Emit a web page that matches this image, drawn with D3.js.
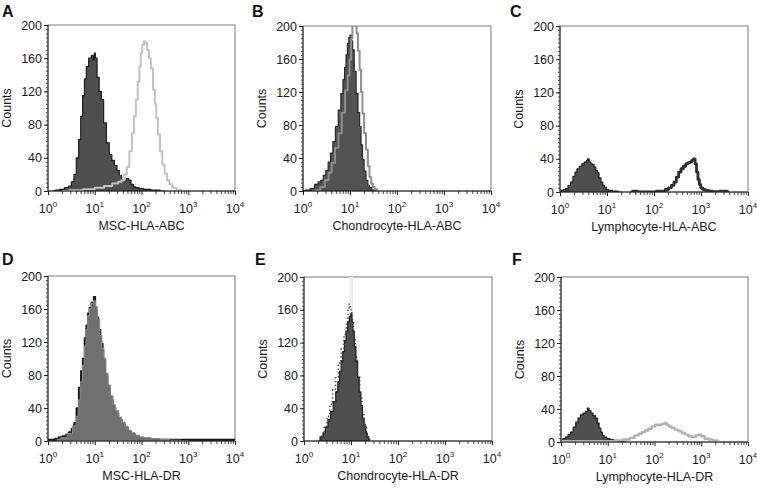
<!DOCTYPE html>
<html><head><meta charset="utf-8">
<script src="https://cdn.jsdelivr.net/npm/d3@7"></script>
<style>
html,body{margin:0;padding:0;background:#fff;}
svg{display:block;font-family:"Liberation Sans",Arial,sans-serif;}
</style></head>
<body>
<svg id="chart" width="757" height="488"></svg>
<script>
// ---------- data (x = log10 fluorescence, y = counts) ----------
const panelLetters = ["A","B","C","D","E","F"];
const xTitles = ["MSC-HLA-ABC","Chondrocyte-HLA-ABC","Lymphocyte-HLA-ABC","MSC-HLA-DR","Chondrocyte-HLA-DR","Lymphocyte-HLA-DR"];
const xTickExponents = [0,1,2,3,4];
const yTickValues = [0,40,80,120,160,200];

const aControl = [[0.1,0],[0.2,1],[0.3,2],[0.4,4],[0.47,6],[0.53,11],[0.58,20],[0.63,40],[0.68,62],[0.72,90],[0.76,115],[0.8,135],[0.84,150],[0.9,160],[0.95,163],[0.98,158],[1.0,166],[1.03,160],[1.07,137],[1.12,120],[1.16,110],[1.22,82],[1.28,58],[1.34,44],[1.39,37],[1.45,31],[1.5,25],[1.55,19],[1.6,13],[1.65,12],[1.7,15],[1.75,13],[1.8,8],[1.85,5],[1.9,4],[2.0,3],[2.1,2],[2.3,1],[2.5,0]];
const aStained = [[0.3,0],[0.6,1],[0.9,2],[1.1,4],[1.3,6],[1.45,9],[1.55,11],[1.6,13],[1.66,20],[1.71,29],[1.77,48],[1.82,70],[1.86,90],[1.9,110],[1.94,132],[1.97,150],[2.0,166],[2.03,176],[2.07,180],[2.1,178],[2.14,170],[2.18,160],[2.22,148],[2.27,122],[2.3,105],[2.33,88],[2.37,68],[2.42,48],[2.47,32],[2.52,21],[2.57,13],[2.62,8],[2.7,4],[2.8,1.5],[2.9,0]];

const bControl = [[0,0.5],[0.1,1],[0.2,3],[0.29,8],[0.35,11],[0.4,13],[0.46,19],[0.51,25],[0.56,35],[0.61,46],[0.66,60],[0.72,78],[0.78,98],[0.83,118],[0.87,135],[0.9,150],[0.93,165],[0.96,179],[0.99,186],[1.01,189],[1.04,182],[1.07,171],[1.11,145],[1.15,118],[1.19,95],[1.22,78],[1.25,56],[1.28,38],[1.32,24],[1.36,13],[1.4,7],[1.43,4],[1.5,1],[1.6,0]];
const bStained = [[0.2,0],[0.32,1],[0.42,5],[0.51,13],[0.58,22],[0.64,34],[0.72,52],[0.79,70],[0.86,95],[0.93,122],[0.97,140],[1.01,159],[1.04,185],[1.06,205],[1.1,210],[1.13,200],[1.15,191],[1.19,170],[1.22,147],[1.25,120],[1.28,94],[1.32,70],[1.36,50],[1.4,30],[1.43,17],[1.47,9],[1.5,5],[1.55,2],[1.6,0]];

const cControl = [[0,1],[0.04,2],[0.1,3],[0.14,4],[0.2,8],[0.25,12],[0.3,19],[0.34,24],[0.38,28],[0.44,31],[0.49,34],[0.54,36],[0.58,38],[0.6,40],[0.64,36],[0.67,34],[0.71,33],[0.74,30],[0.78,26],[0.81,23],[0.85,17],[0.89,12],[0.93,8],[0.96,6],[1.0,3],[1.06,2],[1.17,1],[1.3,0]];
const cStained = [[1.5,0],[1.6,1],[1.7,0],[2.0,0],[2.1,1],[2.2,1],[2.28,3],[2.34,5],[2.4,8],[2.45,12],[2.5,18],[2.55,24],[2.6,28],[2.65,31],[2.7,34],[2.74,35],[2.78,36],[2.82,38],[2.86,40],[2.89,34],[2.92,24],[2.95,15],[2.98,9],[3.01,5],[3.06,3],[3.12,2],[3.2,1],[3.3,0.5],[3.5,1],[3.6,0]];

const dControl = [[0,2],[0.1,2],[0.2,3],[0.26,5],[0.35,6],[0.42,8],[0.47,11],[0.53,15],[0.58,22],[0.63,40],[0.68,65],[0.72,85],[0.76,100],[0.8,125],[0.83,140],[0.87,155],[0.9,162],[0.95,168],[1.0,175],[1.03,160],[1.06,150],[1.1,135],[1.15,118],[1.2,100],[1.25,78],[1.3,64],[1.36,50],[1.42,40],[1.47,34],[1.55,26],[1.61,21],[1.68,16],[1.75,12],[1.82,9],[1.9,6],[2.0,4],[2.11,3],[2.3,2],[2.6,2],[3,2],[3.5,2],[4,2]];
const dStained = [[0.2,2],[0.35,4],[0.47,9],[0.58,18],[0.63,30],[0.68,50],[0.72,72],[0.76,92],[0.8,115],[0.83,135],[0.87,152],[0.9,160],[0.95,167],[1.0,170],[1.03,163],[1.08,148],[1.13,128],[1.18,112],[1.22,100],[1.26,82],[1.31,68],[1.36,55],[1.42,44],[1.47,37],[1.54,29],[1.61,23],[1.68,18],[1.75,13],[1.82,10],[1.9,7],[2.0,5],[2.11,4],[2.3,3],[2.5,2],[2.7,1],[3,0]];

const eSpike = [[0.95,0],[0.98,230],[1.03,230],[1.06,0]];
const eControl = [[0.3,0],[0.38,5],[0.43,10],[0.48,17],[0.54,26],[0.59,36],[0.65,48],[0.7,60],[0.74,72],[0.77,85],[0.81,97],[0.84,109],[0.88,122],[0.91,134],[0.95,145],[0.98,152],[1.01,155],[1.03,145],[1.05,134],[1.09,115],[1.12,97],[1.16,78],[1.19,60],[1.23,43],[1.26,28],[1.3,18],[1.33,10],[1.36,4],[1.39,0]];
const eStained = [[0.35,2],[0.4,8],[0.46,18],[0.52,30],[0.58,45],[0.64,62],[0.7,78],[0.76,95],[0.82,112],[0.88,130],[0.92,145],[0.95,160],[0.97,167],[1.0,160],[1.03,148],[1.07,125],[1.11,102],[1.16,80],[1.21,55],[1.25,35],[1.3,20],[1.35,8],[1.4,2],[1.43,0]];

const fControl = [[0,1],[0.01,2],[0.07,4],[0.12,6],[0.18,9],[0.23,12],[0.29,18],[0.34,24],[0.39,29],[0.44,33],[0.5,35],[0.55,37],[0.58,41],[0.62,38],[0.66,35],[0.71,32],[0.76,29],[0.8,23],[0.83,17],[0.87,12],[0.9,8],[0.95,6],[1.01,4],[1.08,3],[1.16,2],[1.26,1],[1.4,0]];
const fStained = [[0,1],[0.5,1],[1.0,1],[1.12,1],[1.25,2],[1.41,3],[1.52,5],[1.62,8],[1.7,10],[1.76,12],[1.83,14],[1.9,16],[1.98,19],[2.05,21],[2.12,21],[2.19,22],[2.24,23],[2.28,21],[2.33,19],[2.4,17],[2.47,15],[2.55,13],[2.62,11],[2.69,9],[2.76,7],[2.85,6],[2.92,8],[2.97,9],[3.03,7],[3.12,4],[3.2,3],[3.29,2],[3.4,0]];

// ---------- layout & styles ----------
const fillDark = {kind:"area", fill:"#4e4e4e", stroke:"#1e1e1e", width:1.2};
const panels = [
  {box:[48,235,25,191], series:[[aControl,fillDark],[aStained,{kind:"line",stroke:"#c2c2c2",width:2}]]},
  {box:[303,491,26,191], series:[[bControl,{kind:"area",fill:"#525252",stroke:"#2a2a2a",width:1.2}],[bStained,{kind:"line",stroke:"#8e8e8e",width:2}]]},
  {box:[560,748,26,192], series:[[cControl,fillDark],[cStained,{kind:"line",stroke:"#2e2e2e",width:2.8}]]},
  {box:[48,235,276,441], series:[[dControl,{kind:"area",fill:"#404040",stroke:"#151515",width:1.4}],[dStained,{kind:"area",fill:"#717171",stroke:"#8a8a8a",width:1,opacity:0.97}]]},
  {box:[304,492,277,441], series:[[eSpike,{kind:"area",fill:"#efefef",stroke:"none",width:0}],[eControl,fillDark],[eStained,{kind:"line",stroke:"#3a3a3a",width:1.6,dash:"1.2,2.6"}]]},
  {box:[561,748,277,442], series:[[fControl,fillDark],[fStained,{kind:"line",stroke:"#b3b3b3",width:2.4}]]}
];

const svg = d3.select("#chart");
const defs = svg.append("defs");

panels.forEach((p, i) => {
  const [x0, x1, y0, y1] = p.box;
  const x = d3.scaleLog().domain([1, 1e4]).range([x0, x1]);
  const y = d3.scaleLinear().domain([0, 200]).range([y1, y0]);
  const g = svg.append("g");

  defs.append("clipPath").attr("id", "clip" + i)
    .append("rect").attr("x", x0).attr("y", y0).attr("width", x1 - x0).attr("height", y1 - y0);

  // frame
  g.append("rect").attr("x", x0).attr("y", y0).attr("width", x1 - x0).attr("height", y1 - y0)
    .attr("fill", "#fff").attr("stroke", "#7a7a7a").attr("stroke-width", 1);

  const plot = g.append("g").attr("clip-path", `url(#clip${i})`);
  p.series.forEach(([data, st]) => {
    const px = d => x(Math.pow(10, d[0]));
    if (st.kind === "area") {
      const area = d3.area().x(px).y0(y(0)).y1(d => y(d[1])).curve(d3.curveStep);
      plot.append("path").datum(data).attr("d", area)
        .attr("fill", st.fill).attr("fill-opacity", st.opacity || 1)
        .attr("stroke", st.stroke).attr("stroke-width", st.width).attr("stroke-linejoin", "round");
    } else {
      const line = d3.line().x(px).y(d => y(d[1])).curve(d3.curveStep);
      plot.append("path").datum(data).attr("d", line)
        .attr("fill", "none").attr("stroke", st.stroke).attr("stroke-width", st.width)
        .attr("stroke-dasharray", st.dash || null).attr("stroke-linejoin", "round");
    }
  });

  // y axis: minor + major ticks
  const yMinor = d3.range(0, 201, 5);
  g.append("g").attr("transform", `translate(${x0},0)`)
    .call(d3.axisLeft(y).tickValues(yMinor).tickSize(2).tickFormat(""))
    .call(s => { s.select(".domain").remove(); s.selectAll("line").attr("stroke", "#555"); });
  const ya = g.append("g").attr("transform", `translate(${x0},0)`)
    .call(d3.axisLeft(y).tickValues(yTickValues).tickSize(4).tickPadding(2));
  ya.select(".domain").attr("stroke", "#222").attr("d", `M0,${y0}V${y1}`);
  ya.selectAll("line").attr("stroke", "#222");
  ya.selectAll("text").attr("font-size", "12.5px").attr("fill", "#1a1a1a")
    .attr("font-family", "Liberation Sans, Arial, sans-serif");

  // x axis: minor + major ticks
  const xMinor = [];
  xTickExponents.slice(0, -1).forEach(e => { for (let k = 2; k <= 9; k++) xMinor.push(k * Math.pow(10, e)); });
  g.append("g").attr("transform", `translate(0,${y1})`)
    .call(d3.axisBottom(x).tickValues(xMinor).tickSize(3).tickFormat(""))
    .call(s => { s.select(".domain").remove(); s.selectAll("line").attr("stroke", "#444"); });
  const xa = g.append("g").attr("transform", `translate(0,${y1})`)
    .call(d3.axisBottom(x).tickValues(xTickExponents.map(e => Math.pow(10, e))).tickSize(4).tickFormat(""));
  xa.select(".domain").attr("stroke", "#222").attr("d", `M${x0},0H${x1}`);
  xa.selectAll("line").attr("stroke", "#222");

  xTickExponents.forEach(e => {
    const t = g.append("text").attr("x", x(Math.pow(10, e))).attr("y", y1 + 22)
      .attr("text-anchor", "middle").attr("font-size", "12.5px").attr("fill", "#1a1a1a");
    t.append("tspan").text("10");
    t.append("tspan").attr("dy", -6).attr("font-size", "8px").text(String(e));
  });

  // titles
  g.append("text").attr("x", (x0 + x1) / 2).attr("y", y1 + 39).attr("text-anchor", "middle")
    .attr("font-size", "12.5px").attr("fill", "#1a1a1a").text(xTitles[i]);
  g.append("text").attr("transform", `translate(${x0 - 37},${(y0 + y1) / 2}) rotate(-90)`)
    .attr("text-anchor", "middle").attr("font-size", "12.5px").attr("fill", "#1a1a1a").text("Counts");
  const letterX = [2, 252, 510, 2, 255, 512][i];
  const letterY = [17, 17, 17, 265, 265, 265][i];
  g.append("text").attr("x", letterX).attr("y", letterY).attr("font-size", "16px")
    .attr("font-weight", "bold").attr("fill", "#111").text(panelLetters[i]);
});
</script>
</body></html>
